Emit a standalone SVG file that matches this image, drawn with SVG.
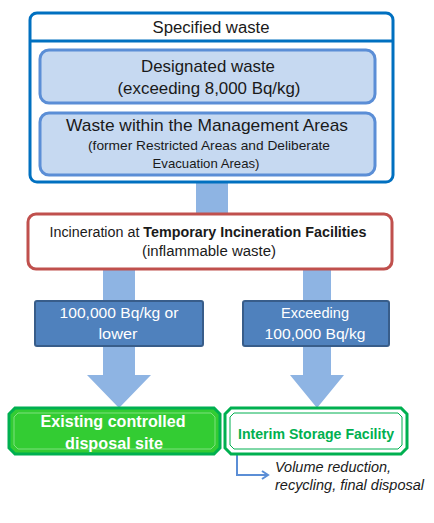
<svg xmlns="http://www.w3.org/2000/svg" width="434" height="523" viewBox="0 0 434 523">
<style>
text{font-family:"Liberation Sans",Arial,sans-serif;text-anchor:middle;fill:#1a1a1a}
.inner{fill:#C6D9F1;stroke:#5B8ED6;stroke-width:3}
.conn{fill:#8EB4E3}
.blue{fill:#4F81BD;stroke:#385D8A;stroke-width:2}
.wt{fill:#fff}
.bold{font-weight:bold}
</style>
<defs>
<marker id="ah" markerWidth="10" markerHeight="10" refX="7" refY="5" orient="auto" markerUnits="userSpaceOnUse">
<path d="M1,1 L7,5 L1,9" fill="none" stroke="#5B8ED6" stroke-width="2"/>
</marker>
</defs>
<rect width="434" height="523" fill="#fff"/>
<g id="connectors">
<rect class="conn" x="196" y="183" width="32" height="31"/>
<rect class="conn" x="103" y="270" width="32" height="31"/>
<rect class="conn" x="303" y="270" width="28" height="31"/>
<polygon class="conn" points="103,347 135,347 135,375 151,375 119,408 87,375 103,375"/>
<polygon class="conn" points="303,347 331,347 331,375 344,375 317,408 290,375 303,375"/>
<path d="M237,455 V475 H268" fill="none" stroke="#5B8ED6" stroke-width="2" marker-end="url(#ah)"/>
</g>
<g id="specified">
<rect x="30" y="13" width="363" height="169" rx="7" fill="#fff" stroke="#0070C0" stroke-width="3"/>
<line x1="30" y1="41" x2="393" y2="41" stroke="#0070C0" stroke-width="3"/>
<text x="211" y="33" font-size="16" textLength="117" lengthAdjust="spacingAndGlyphs">Specified waste</text>
</g>
<g id="designated">
<rect class="inner" x="40" y="50" width="335" height="53" rx="9"/>
<text x="208" y="72" font-size="17" textLength="134" lengthAdjust="spacingAndGlyphs">Designated waste</text>
<text x="209" y="94" font-size="17" textLength="183" lengthAdjust="spacingAndGlyphs">(exceeding 8,000 Bq/kg)</text>
</g>
<g id="management">
<rect class="inner" x="40" y="113" width="335" height="62" rx="9"/>
<text x="207" y="131" font-size="17" textLength="282" lengthAdjust="spacingAndGlyphs">Waste within the Management Areas</text>
<text x="209" y="150" font-size="13.5" textLength="242" lengthAdjust="spacingAndGlyphs">(former Restricted Areas and Deliberate</text>
<text x="206" y="168" font-size="13.5" textLength="107" lengthAdjust="spacingAndGlyphs">Evacuation Areas)</text>
</g>
<g id="incineration">
<rect x="28" y="214" width="364" height="55" rx="8" fill="#fff" stroke="#C0504D" stroke-width="3"/>
<text x="208" y="237" font-size="14" textLength="317" lengthAdjust="spacingAndGlyphs">Incineration at <tspan class="bold">Temporary Incineration Facilities</tspan></text>
<text x="209" y="256" font-size="14" textLength="134" lengthAdjust="spacingAndGlyphs">(inflammable waste)</text>
</g>
<g id="low">
<rect class="blue" x="35" y="301" width="168" height="45" rx="2"/>
<text class="wt" x="119" y="318" font-size="15" textLength="119" lengthAdjust="spacingAndGlyphs">100,000 Bq/kg or</text>
<text class="wt" x="118" y="339" font-size="15" textLength="39" lengthAdjust="spacingAndGlyphs">lower</text>
</g>
<g id="high">
<rect class="blue" x="243" y="301" width="146" height="45" rx="2"/>
<text class="wt" x="315" y="318" font-size="15" textLength="68" lengthAdjust="spacingAndGlyphs">Exceeding</text>
<text class="wt" x="315" y="339" font-size="15" textLength="101" lengthAdjust="spacingAndGlyphs">100,000 Bq/kg</text>
</g>
<g id="existing">
<polygon points="15,408 214,408 220,414 220,448 214,454 15,454 9,448 9,414" fill="#33CC33" stroke="#00B050" stroke-width="3"/>
<polygon points="18,413 211,413 215,417 215,445 211,449 18,449 14,445 14,417" fill="none" stroke="#7FE07F" stroke-width="1"/>
<text class="wt bold" x="113" y="427" font-size="17" textLength="145" lengthAdjust="spacingAndGlyphs">Existing controlled</text>
<text class="wt bold" x="114" y="449" font-size="17" textLength="98" lengthAdjust="spacingAndGlyphs">disposal site</text>
</g>
<g id="interim">
<polygon points="231,408 401,408 407,414 407,448 401,454 231,454 225,448 225,414" fill="#fff" stroke="#00B050" stroke-width="3"/>
<polygon points="234,413 398,413 402,417 402,445 398,449 234,449 230,445 230,417" fill="none" stroke="#00B050" stroke-width="1"/>
<text class="bold" x="316" y="439" font-size="14" fill="#00B050" style="fill:#00B050" textLength="156" lengthAdjust="spacingAndGlyphs">Interim Storage Facility</text>
</g>
<g id="note">
<text x="275" y="472" font-size="14" font-style="italic" style="text-anchor:start" textLength="116" lengthAdjust="spacingAndGlyphs">Volume reduction,</text>
<text x="275" y="490" font-size="14" font-style="italic" style="text-anchor:start" textLength="149" lengthAdjust="spacingAndGlyphs">recycling, final disposal</text>
</g>
</svg>
